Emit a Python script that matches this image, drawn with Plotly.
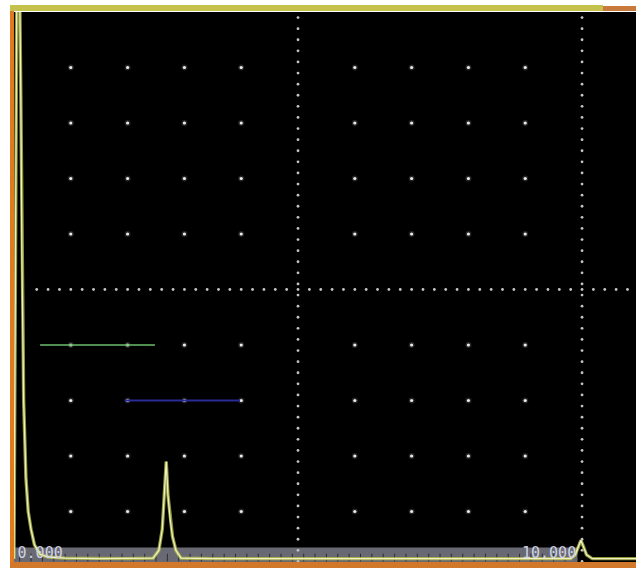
import numpy as np
import plotly.graph_objects as go

# A-scan trace: sound path (screen divisions) vs. echo amplitude (% screen height)
scan_x = [0.00, 0.03, 0.05, 0.08, 0.10, 0.12, 0.14, 0.17, 0.21, 0.25, 0.30, 0.36, 0.46,
          0.60, 0.90, 1.50, 2.00, 2.45, 2.55, 2.61, 2.64, 2.68, 2.71, 2.75, 2.79, 2.85,
          2.94, 3.50, 4.50, 5.50, 6.50, 7.50, 8.50, 9.40, 9.80, 9.88, 9.94, 9.98, 10.02,
          10.08, 10.18, 10.50, 10.95]
scan_y = [1.5, 60.0, 105.0, 105.0, 104.0, 85.0, 55.0, 30.0, 16.0, 10.0, 6.8, 4.0, 2.3,
          1.8, 1.6, 1.5, 1.5, 1.6, 3.0, 6.8, 12.0, 19.0, 13.0, 8.5, 5.5, 3.0,
          1.6, 1.5, 1.5, 1.5, 1.5, 1.5, 1.5, 1.5, 1.5, 2.2, 3.8, 4.8, 3.8,
          2.2, 1.5, 1.5, 1.5]

# Gates: start, end (divisions) and threshold (% screen height)
gate_a = {"start": 0.46, "end": 2.48, "level": 40}
gate_b = {"start": 1.95, "end": 3.98, "level": 30}

# Range readout
range_labels = ["0.000", "10.000"]
range_label_x = [0.46, 9.42]

X_MAX = 10.95
W, H = 636, 568
ML, MR, MT, MB = 14, 0, 12, 1
PW, PH = W - ML - MR, H - MT - MB

fig = go.Figure()

# Graticule points at every whole division
gx, gy = [], []
for i in range(1, 10):
    if i == 5:
        continue
    for j in range(1, 10):
        if j == 5:
            continue
        gx.append(i)
        gy.append(j * 10)
fig.add_trace(go.Scatter(x=gx, y=gy, mode="markers",
                         marker=dict(size=6, color="rgba(200,200,200,0.18)", line=dict(width=0)),
                         hoverinfo="skip", showlegend=False))
fig.add_trace(go.Scatter(x=gx, y=gy, mode="markers",
                         marker=dict(size=3.2, color="#ececec", line=dict(width=0)),
                         hoverinfo="skip", showlegend=False))

# Dotted centre and end lines
vy = np.arange(1, 100, 2.0)
dx, dy = [], []
for cx in (5, 10):
    dx += [cx] * len(vy)
    dy += list(vy)
hx = np.arange(0.4, X_MAX, 0.2)
dx += list(hx)
dy += [50] * len(hx)
fig.add_trace(go.Scatter(x=dx, y=dy, mode="markers",
                         marker=dict(size=2.8, color="#c4c4c4", line=dict(width=0)),
                         hoverinfo="skip", showlegend=False))

# Gates
fig.add_trace(go.Scatter(x=[gate_a["start"], gate_a["end"]], y=[gate_a["level"]] * 2,
                         mode="lines", line=dict(color="#6cbf6c", width=1.6),
                         hoverinfo="skip", showlegend=False))
fig.add_trace(go.Scatter(x=[gate_b["start"], gate_b["end"]], y=[gate_b["level"]] * 2,
                         mode="lines", line=dict(color="#2a2a96", width=2),
                         hoverinfo="skip", showlegend=False))

# Echo trace: soft yellow halo under a pale core
fig.add_trace(go.Scatter(x=scan_x, y=scan_y, mode="lines",
                         line=dict(color="rgba(190,200,70,0.75)", width=3.4),
                         hoverinfo="skip", showlegend=False))
fig.add_trace(go.Scatter(x=scan_x, y=scan_y, mode="lines",
                         line=dict(color="#f0f0c8", width=1.3),
                         hoverinfo="skip", showlegend=False))

# Range readout text
fig.add_trace(go.Scatter(x=range_label_x, y=[2.3, 2.3], mode="text", text=range_labels,
                         textfont=dict(family="DejaVu Sans Mono", size=15, color="#cdd1e4"),
                         hoverinfo="skip", showlegend=False))

shapes = []
# Readout strip along the bottom
shapes.append(dict(type="rect", xref="x", yref="y", x0=0, x1=9.92, y0=0.9, y1=3.5,
                   fillcolor="#686972", line=dict(width=0), layer="below"))
for t in np.arange(0.1, 9.9, 0.2):
    shapes.append(dict(type="line", xref="x", yref="y", x0=t, x1=t, y0=1.0, y1=2.4,
                       line=dict(color="#2e2e34", width=1), layer="below"))

def px(v):
    return (v - ML) / PW

def py(v):
    return (H - MB - v) / PH

# Screen frame
shapes.append(dict(type="rect", xref="paper", yref="paper", x0=px(10), x1=px(14),
                   y0=py(568), y1=py(8), fillcolor="#e07a1e", line=dict(width=0)))
shapes.append(dict(type="rect", xref="paper", yref="paper", x0=px(10), x1=px(603),
                   y0=py(11), y1=py(5), fillcolor="#c4c24c", line=dict(width=0)))
shapes.append(dict(type="rect", xref="paper", yref="paper", x0=px(603), x1=px(636),
                   y0=py(11), y1=py(6), fillcolor="#c87a3c", line=dict(width=0)))
shapes.append(dict(type="rect", xref="paper", yref="paper", x0=px(10), x1=px(636),
                   y0=py(568), y1=py(562), fillcolor="#d2782a", line=dict(width=0)))

fig.update_layout(
    width=W, height=H,
    margin=dict(l=ML, r=MR, t=MT, b=MB, pad=0),
    paper_bgcolor="white", plot_bgcolor="black",
    xaxis=dict(range=[0, X_MAX], visible=False, fixedrange=True),
    yaxis=dict(range=[0, 100], visible=False, fixedrange=True),
    shapes=shapes,
    showlegend=False,
)

fig.write_html("out.html")
